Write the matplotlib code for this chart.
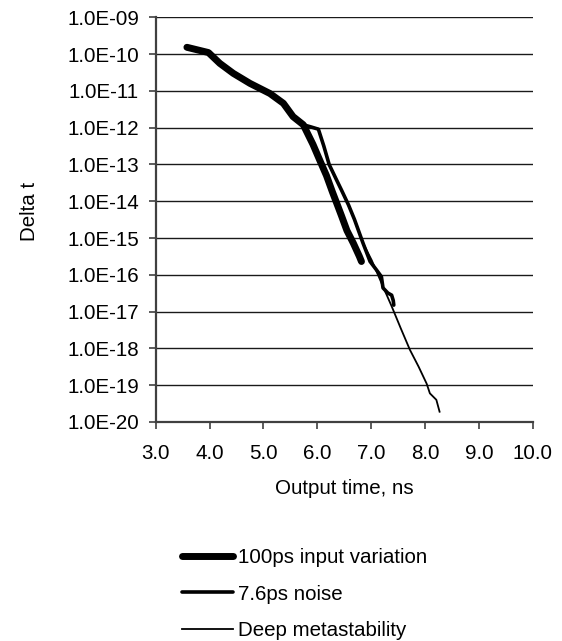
import matplotlib
matplotlib.use("Agg")
import matplotlib.pyplot as plt
from matplotlib.ticker import LogLocator, FuncFormatter, FixedLocator, NullLocator
import numpy as np

plt.rcParams['font.family'] = ['Liberation Sans', 'DejaVu Sans']
plt.rcParams['font.size'] = 14.8

# 100ps input variation
t_input = [3.58, 3.98, 4.19, 4.44, 4.75, 5.12, 5.37, 5.55, 5.74, 5.92, 6.05, 6.17,
           6.28, 6.36, 6.45, 6.55, 6.67, 6.78, 6.82]
d_input = [1.53e-10, 1.1e-10, 5.6e-11, 3.0e-11, 1.6e-11, 8.5e-12, 4.6e-12, 2.0e-12,
           1.2e-12, 3.5e-13, 1.26e-13, 5.0e-14, 1.8e-14, 8.9e-15, 4.0e-15, 1.6e-15,
           7.2e-16, 3.2e-16, 2.3e-16]

# 7.6ps noise
t_noise = [3.58, 3.98, 4.19, 4.44, 4.75, 5.12, 5.37, 5.55, 5.74, 5.88, 6.02, 6.12,
           6.22, 6.35, 6.45, 6.58, 6.69, 6.85, 6.98, 7.1, 7.19, 7.22, 7.31, 7.38,
           7.41, 7.42]
d_noise = [1.53e-10, 1.1e-10, 5.6e-11, 3.2e-11, 1.6e-11, 8.3e-12, 4.5e-12, 2.1e-12,
           1.2e-12, 1.05e-12, 9.1e-13, 3.2e-13, 1.0e-13, 4.0e-14, 2.0e-14, 7.9e-15,
           3.2e-15, 7.2e-16, 2.3e-16, 1.35e-16, 8.9e-17, 4.4e-17, 3.2e-17, 2.8e-17,
           2.0e-17, 1.5e-17]

# Deep metastability
t_deep = [3.58, 3.98, 4.19, 4.44, 4.75, 5.12, 5.37, 5.55, 5.74, 5.88, 6.02, 6.12,
          6.22, 6.35, 6.45, 6.58, 6.69, 6.85, 7.01, 7.2, 7.38, 7.55, 7.72, 7.88,
          8.03, 8.09, 8.21, 8.27]
d_deep = [1.53e-10, 1.1e-10, 5.6e-11, 3.2e-11, 1.6e-11, 8.3e-12, 4.5e-12, 2.1e-12,
          1.2e-12, 1.05e-12, 9.1e-13, 3.2e-13, 1.0e-13, 4.0e-14, 2.0e-14, 7.9e-15,
          3.2e-15, 7.2e-16, 2.5e-16, 5.6e-17, 1.4e-17, 3.5e-18, 9.1e-19, 3.2e-19,
          1.1e-19, 6.0e-20, 4.0e-20, 1.9e-20]

x_ticks = [3.0, 4.0, 5.0, 6.0, 7.0, 8.0, 9.0, 10.0]

fig = plt.figure(figsize=(5.62, 6.41), dpi=100)
ax = fig.add_axes([0.277, 0.3417, 0.671, 0.6313])

ax.plot(t_input, d_input, color='black', lw=5.0, solid_capstyle='round',
        solid_joinstyle='round', label='100ps input variation')
ax.plot(t_noise, d_noise, color='black', lw=2.6, solid_capstyle='round',
        solid_joinstyle='round', label='7.6ps noise')
ax.plot(t_deep, d_deep, color='black', lw=1.3, label='Deep metastability')

ax.set_yscale('log')
ax.set_ylim(1e-20, 1e-9)
ax.set_xlim(3.0, 10.0)
ax.yaxis.set_major_locator(LogLocator(base=10, numticks=20))
ax.yaxis.set_minor_locator(NullLocator())
ax.yaxis.set_major_formatter(FuncFormatter(lambda v, p: "1.0E-%02d" % round(-np.log10(v))))
ax.xaxis.set_major_locator(FixedLocator(x_ticks))
ax.xaxis.set_major_formatter(FuncFormatter(lambda v, p: "%.1f" % v))

ax.grid(axis='y', color='#1a1a1a', lw=1.0)
ax.set_axisbelow(True)
for s in ['top', 'right']:
    ax.spines[s].set_visible(False)
for s in ['left', 'bottom']:
    ax.spines[s].set_color('#404040')
    ax.spines[s].set_linewidth(1.6)
ax.tick_params(direction='out', length=5, width=1.2, color='#404040')
ax.tick_params(axis='x', pad=11)
ax.tick_params(axis='y', pad=7)

ax.set_xlabel('Output time, ns', labelpad=11.5)
ax.set_ylabel('Delta t')
ax.yaxis.set_label_coords(-0.31, 0.52)

fig.legend(loc='upper left', bbox_to_anchor=(0.305, 0.161), frameon=False,
           handlelength=2.5, handletextpad=0.25, labelspacing=0.85, borderpad=0)

fig.savefig('out.png', dpi=100)
